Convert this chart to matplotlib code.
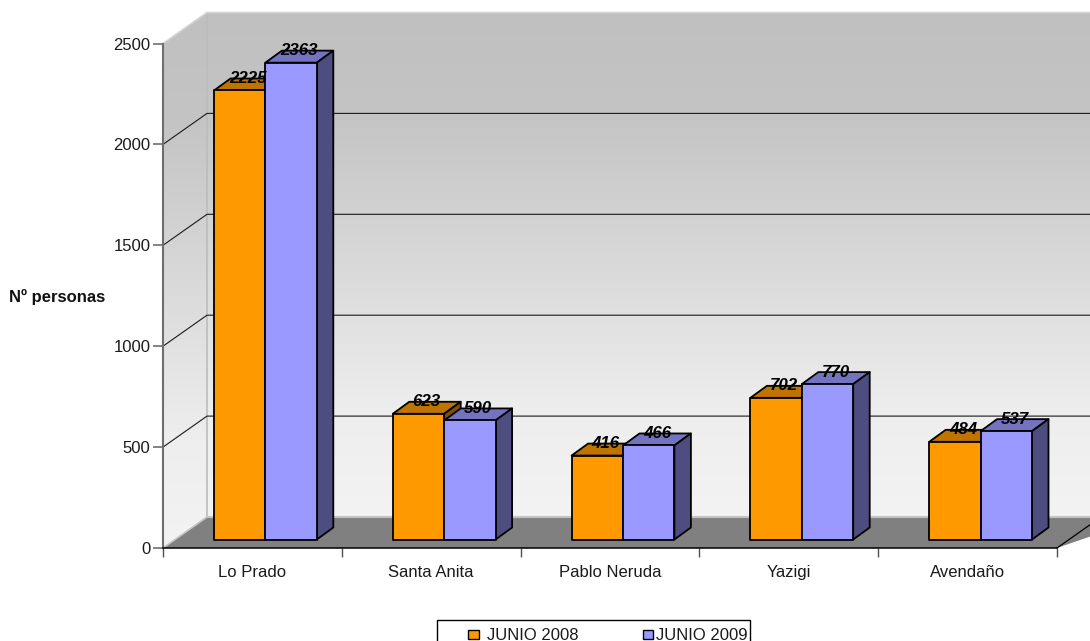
import numpy as np
import matplotlib

matplotlib.use("Agg")
import matplotlib.pyplot as plt
from matplotlib.patches import Polygon, Rectangle

plt.rcParams["font.family"] = ["Liberation Sans", "DejaVu Sans"]

categories = ["Lo Prado", "Santa Anita", "Pablo Neruda", "Yazigi", "Avendaño"]
junio_2008 = [2225, 623, 416, 702, 484]
junio_2009 = [2363, 590, 466, 770, 537]
y_ticks = [0, 500, 1000, 1500, 2000, 2500]
series_names = ["JUNIO 2008", "JUNIO 2009"]

W, H = 1090, 641
AX_L, AX_R, AX_T, AX_B = 163, 1057, 43.5, 548
PX_X = (AX_R - AX_L) / len(categories)  # pixels per category
PX_Y = (AX_B - AX_T) / y_ticks[-1]  # pixels per unit

# profundidad del "3D" falso, en unidades de datos
WALL_DX, WALL_DY = 44 / PX_X, 31 / PX_Y
BASE_DX, BASE_DY = 13 / PX_X, 8.5 / PX_Y
BAR_DX, BAR_DY = 16.5 / PX_X, 12 / PX_Y
BAR_W = 51.4 / PX_X

fig = plt.figure(figsize=(W / 100, H / 100), dpi=100)
ax = fig.add_axes([AX_L / W, 1 - AX_B / H, (AX_R - AX_L) / W, (AX_B - AX_T) / H])
ax.patch.set_alpha(0)
top = y_ticks[-1]
right = len(categories) + 0.5

# paredes con degradado
grad = np.linspace(0, 1, 256).reshape(-1, 1)
cmap = matplotlib.colors.LinearSegmentedColormap.from_list(
    "wall", [(0, "#c0c0c0"), (0.2, "#c4c4c4"), (0.5, "#d9d9d9"), (0.8, "#eeeeee"), (1, "#f3f3f3")])
ax.imshow(grad, cmap=cmap, aspect="auto", zorder=1, clip_on=False,
          extent=[WALL_DX, right, WALL_DY, top + WALL_DY])
side = ax.imshow(grad, cmap=cmap, aspect="auto", zorder=1,
                 extent=[0, WALL_DX, 0, top + WALL_DY])
side_poly = Polygon([(0, 0), (WALL_DX, WALL_DY), (WALL_DX, top + WALL_DY), (0, top)],
                    closed=True, transform=ax.transData, fc="none", ec="none", clip_on=False)
ax.add_patch(side_poly)
side.set_clip_box(fig.bbox)
side.set_clip_path(side_poly)
ax.plot([WALL_DX, WALL_DX], [WALL_DY, top + WALL_DY], color="#bcbcbc", lw=1.2, zorder=2,
        clip_on=False)
ax.plot([0, WALL_DX, right], [top, top + WALL_DY, top + WALL_DY], color="#d4d4d4", lw=1.2,
        zorder=2, clip_on=False)

# suelo
ax.add_patch(Polygon([(0, 0), (WALL_DX, WALL_DY), (right, WALL_DY), (len(categories), 0)],
                     closed=True, fc="#808080", ec="none", zorder=2, clip_on=False))
ax.plot([WALL_DX, right], [WALL_DY, WALL_DY], color="#c4c4c4", lw=1.5, zorder=2, clip_on=False)
ax.plot([0, WALL_DX], [0, WALL_DY], color="#c4c4c4", lw=1.2, zorder=2, clip_on=False)
ax.plot([len(categories), len(categories) + WALL_DX], [0, WALL_DY], color="black", lw=0.9,
        zorder=3, clip_on=False)

# rejilla
for t in y_ticks[1:-1]:
    ax.plot([0, WALL_DX, right], [t, t + WALL_DY, t + WALL_DY], color="#1a1a1a", lw=0.8,
            zorder=3, clip_on=False)
ax.plot([0, 0], [0, top], color="#6e6e6e", lw=1.5, zorder=4, clip_on=False)


def draw_bar(x0, value, front, top_c, side_c, zorder):
    x1 = x0 + BAR_W
    y0 = BASE_DY
    y1 = value + BASE_DY
    faces = [
        ([(x0, y1), (x1, y1), (x1 + BAR_DX, y1 + BAR_DY), (x0 + BAR_DX, y1 + BAR_DY)], top_c),
        ([(x1, y0), (x1 + BAR_DX, y0 + BAR_DY), (x1 + BAR_DX, y1 + BAR_DY), (x1, y1)], side_c),
        ([(x0, y0), (x1, y0), (x1, y1), (x0, y1)], front),
    ]
    for pts, col in faces:
        ax.add_patch(Polygon(pts, closed=True, fc=col, ec="black", lw=1.3, zorder=zorder,
                             joinstyle="round", clip_on=False))
    ax.text(x0 + BAR_W / 2 + BAR_DX / 2, y1 + BAR_DY, str(value), ha="center", va="center",
            fontsize=12.2, fontstyle="italic", fontweight="bold", color="black", zorder=20)


for i, (a, b) in enumerate(zip(junio_2008, junio_2009)):
    start = i + 0.5 - BAR_W + BASE_DX
    draw_bar(start, a, "#ff9900", "#bf7300", "#805000", 10 + i)
    draw_bar(start + BAR_W, b, "#9999ff", "#7373bf", "#4d4d80", 10 + i)

# ejes
ax.set_xlim(0, len(categories))
ax.set_ylim(0, top)
ax.set_xticks(range(len(categories) + 1))
ax.set_xticklabels([])
ax.set_yticks(y_ticks)
ax.tick_params(axis="y", length=7, width=1.2, color="#6e6e6e", pad=2, labelsize=12,
               labelcolor="#1a1a1a")
ax.tick_params(axis="x", length=6.5, width=1, color="#505050")
for s in ["top", "right", "left"]:
    ax.spines[s].set_visible(False)
ax.spines["bottom"].set_linewidth(1.1)
ax.spines["bottom"].set_zorder(5)
for i, name in enumerate(categories):
    ax.text(i + 0.5, -121, name, ha="center", va="center", fontsize=12, color="#1a1a1a",
            clip_on=False)

fig.text(57 / W, 1 - 297 / H, "Nº personas", ha="center", va="center", fontsize=12,
         fontweight="bold", color="#111111")

# leyenda recortada por el borde inferior de la figura
fig.add_artist(Rectangle((437 / W, 1 - 660 / H), 313 / W, 40 / H, transform=fig.transFigure,
                         fc="white", ec="black", lw=1))
swatches = [(468, "#ff9900", 487), (642.5, "#9999ff", 656.5)]
for name, (sx, col, tx) in zip(series_names, swatches):
    fig.add_artist(Rectangle((sx / W, 1 - 639 / H), 10.5 / W, 9.5 / H,
                             transform=fig.transFigure, fc=col, ec="black", lw=1))
    fig.text(tx / W, 1 - 635.5 / H, name, ha="left", va="center", fontsize=12, color="#1a1a1a")

fig.savefig("out.png", dpi=100)
plt.close(fig)
